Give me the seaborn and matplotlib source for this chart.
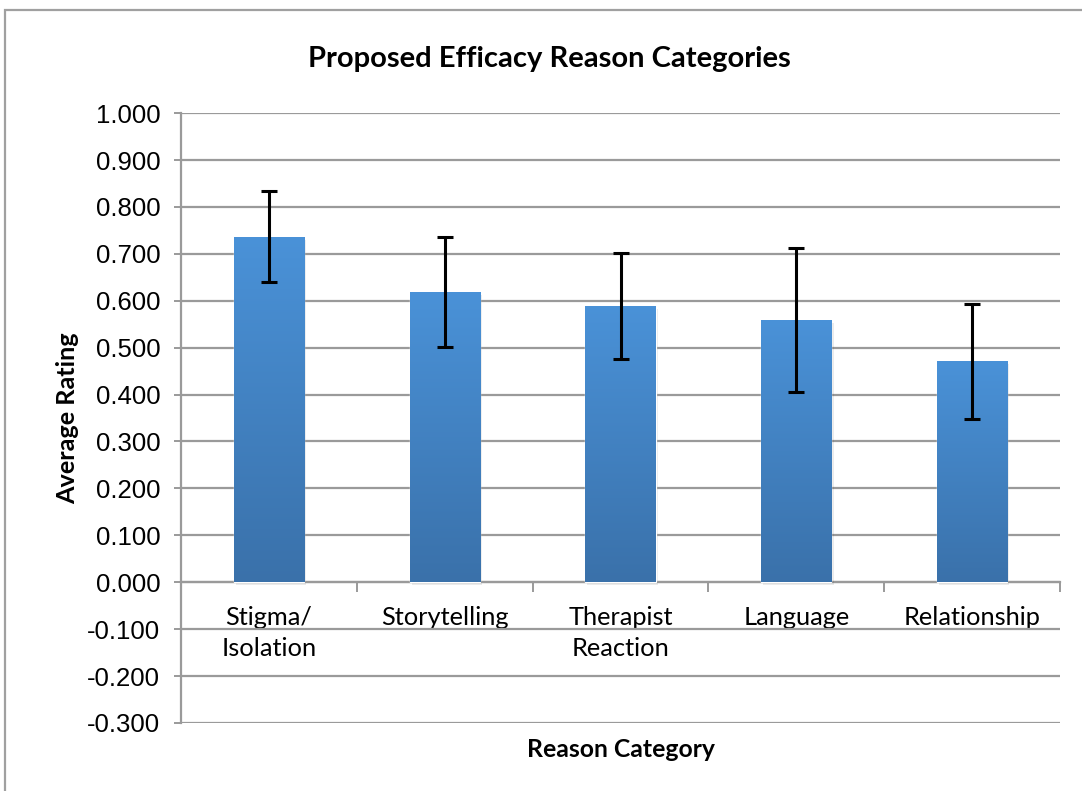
import numpy as np
import pandas as pd
import matplotlib
matplotlib.use("Agg")
import matplotlib.pyplot as plt
from matplotlib.patches import Rectangle
from matplotlib.colors import LinearSegmentedColormap
import seaborn as sns

categories = ["Stigma/\nIsolation", "Storytelling", "Therapist\nReaction", "Language", "Relationship"]
avg_rating = [0.736, 0.619, 0.589, 0.559, 0.471]
err = [0.097, 0.117, 0.113, 0.154, 0.123]
yticks = np.round(np.arange(-0.3, 1.0001, 0.1), 1)

sns.set_theme(style="white")
plt.rcParams["font.family"] = ["Lato", "DejaVu Sans"]
plt.rcParams["text.color"] = "black"
plt.rcParams["axes.labelcolor"] = "black"

df = pd.DataFrame({"Reason Category": categories, "Average Rating": avg_rating})

fig = plt.figure(figsize=(10.82, 7.91), dpi=100)
ax = fig.add_axes([0.1673, 0.086, 0.8124, 0.771])

sns.barplot(data=df, x="Reason Category", y="Average Rating", color="#4a90d4",
            width=0.4, errorbar=None, ax=ax, zorder=3, saturation=1)

# vertical gradient on each bar, like the Excel fill
cmap = LinearSegmentedColormap.from_list("bar", ["#3a71aa", "#4a92d8"])
grad = np.linspace(0, 1, 256).reshape(-1, 1)
for p in ax.patches:
    x0, y0 = p.get_x(), p.get_y()
    w, h = p.get_width(), p.get_height()
    im = ax.imshow(grad, cmap=cmap, origin="lower", aspect="auto",
                   extent=[x0, x0 + w, y0, y0 + h], zorder=3.5)
    im.set_clip_path(p)
    # faint drop shadow
    ax.add_patch(Rectangle((x0 + 0.012, y0 - 0.006), w, h, color="#000000",
                           alpha=0.08, zorder=2.8, lw=0))

ax.errorbar(np.arange(len(categories)), avg_rating, yerr=err, fmt="none",
            ecolor="black", elinewidth=2.2, capsize=5.8, capthick=2.2, zorder=5)

ax.set_xlim(-0.5, len(categories) - 0.5)
ax.set_ylim(-0.3, 1.0)
ax.set_yticks(yticks)
ax.set_yticklabels([f"{v:.3f}" for v in yticks], fontfamily="Liberation Sans", fontsize=18.5)
ax.yaxis.grid(True, color="#9a9a9a", lw=1.6, zorder=0)
ax.tick_params(axis="y", left=True, length=5, width=1.4, color="#9a9a9a", labelcolor="black", pad=10)

# category axis crosses at zero, tick marks between categories
ax.spines["bottom"].set_position(("data", 0))
ax.spines["bottom"].set_color("#9a9a9a")
ax.spines["bottom"].set_linewidth(1.6)
ax.set_xticks(np.arange(-0.5, len(categories), 1.0))
ax.set_xticklabels([])
ax.tick_params(axis="x", bottom=True, length=7, width=1.4, color="#9a9a9a")
ax.set_xticks(np.arange(len(categories)), minor=True)
ax.set_xticklabels(categories, minor=True, fontsize=18.3, linespacing=1.45)
ax.tick_params(axis="x", which="minor", length=0, pad=17, labelcolor="black")
for s in ["top", "right"]:
    ax.spines[s].set_visible(False)
ax.spines["left"].set_color("#9a9a9a")
ax.spines["left"].set_linewidth(1.6)

ax.set_xlabel("Reason Category", fontsize=17.8, fontweight="bold")
ax.xaxis.set_label_coords(0.5, -0.024)
ax.set_ylabel("Average Rating", fontsize=18.2, fontweight="bold", labelpad=6)
fig.text(0.508, 0.925, "Proposed Efficacy Reason Categories", ha="center", va="center",
         fontsize=21, fontweight="bold")

# chart frame
fig.add_artist(Rectangle((0.0046, -0.05), 1.1, 1.0373, transform=fig.transFigure,
                         fill=False, edgecolor="#a0a0a0", lw=1.6))

fig.savefig("out.png", dpi=100)
